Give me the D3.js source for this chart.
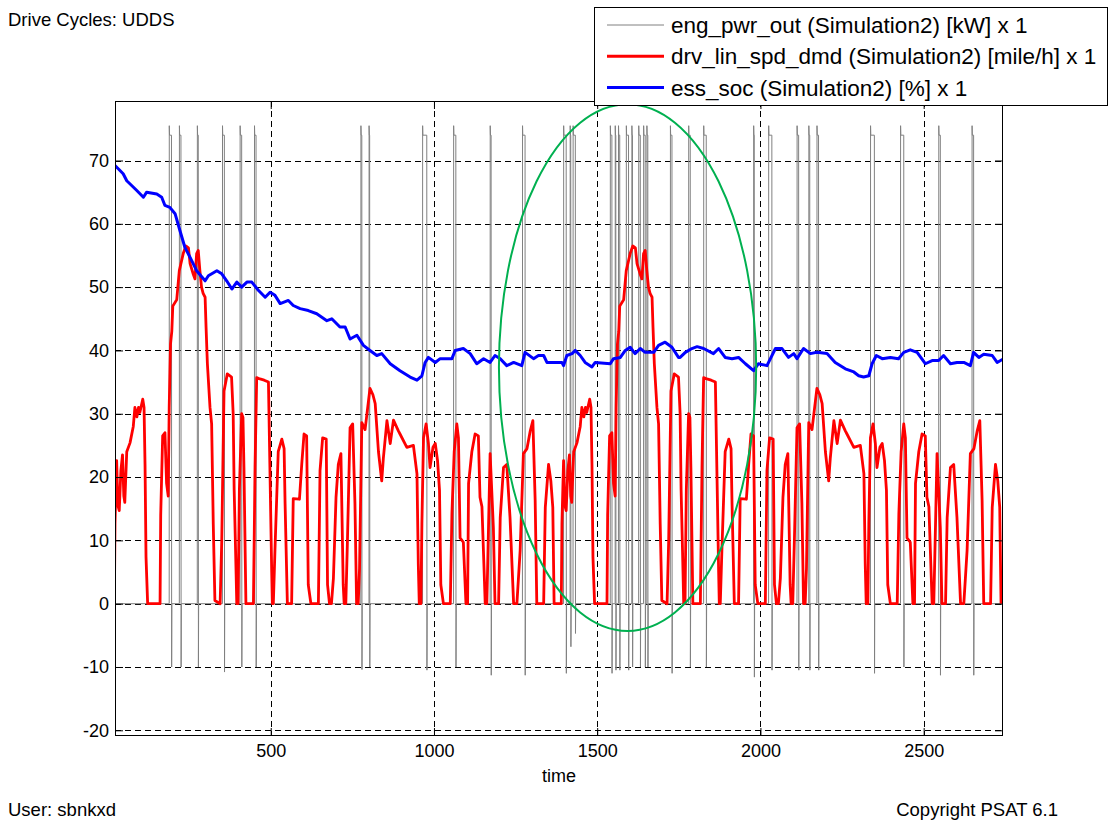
<!DOCTYPE html>
<html>
<head>
<meta charset="utf-8">
<script src="https://cdn.jsdelivr.net/npm/d3@7"></script>
<style>
  html, body { margin: 0; padding: 0; background: #fff; }
  svg { display: block; }
  text { font-family: "Liberation Sans", Arial, Helvetica, sans-serif; fill: #000; }
</style>
</head>
<body>
<svg id="chart" width="1110" height="825"></svg>
<script>
// ---------------- DATA ----------------
const xTicks = [500, 1000, 1500, 2000, 2500];
const yTicks = [-20, -10, 0, 10, 20, 30, 40, 50, 60, 70];
const xDomain = [23, 2743];
const yDomain = [-20.9, 79.4];

const seriesNames = [
  "eng_pwr_out (Simulation2) [kW] x 1",
  "drv_lin_spd_dmd (Simulation2) [mile/h] x 1",
  "ess_soc (Simulation2) [%] x 1"
];

// One UDDS cycle of the speed demand [time s, mile/h] (the run repeats it twice)
const udssCycleLength = 1369;
const speedCycle = [
  [0,0],[21,0],[23,12.6],[28,22.6],[32,15.5],[36,14.7],[41,21],[46,23.5],[50,17],[53,16],[59,24],[69,25.4],[79,28],[84,31],[90,29.5],[95,31],[99,30.2],[108,32.3],[112,31],[115,22],[118,7.4],[123,0],
  [161,0],[163,14],[169,26.5],[176,27],[181,19],[186,17],[189,31],[193,41],[197,43],[200,47],[212,48],[220,52.6],[232,55.3],[240,56.5],[248,56.2],[253,53.7],[263,52],[268,51.3],[273,55.3],[278,55.8],[283,52.6],[288,50],[293,49],[299,48.4],[302,43.6],[306,37.9],[314,31],[319,28.4],[324,12.6],[329,0.5],
  [345,0],[350,10],[357,33.6],[367,36.3],[380,35.8],[385,30],[388,18],[394,4.7],[396,0],[400,0],[404,18],[411,30],[415,29.4],[418,21.5],[424,0],
  [447,0],[452,21.5],[457,35.7],[467,35.5],[480,35.3],[493,35],[498,20],[503,5],[505,0],[508,0],[513,8.5],[523,24],[534,26],[541,24.5],[544,15.8],[551,0],
  [564,0],[569,16.6],[588,16.5],[595,22],[602,26.8],[610,26.5],[615,3],[623,0],
  [646,0],[651,21],[659,26.2],[670,26],[674,3],[680,0],[686,0],[692,4],[700,16.8],[707,22],[715,23.7],[722,3],[725,0],[730,0],[735,10],[743,27.8],[751,28.4],[758,15.8],[763,0],[768,0],[772,5.5],[779,28.6],[789,27.5],[804,34],[813,33],[820,31.6],[830,24],[840,19.4],[845,23],[856,28.9],[866,25.3],[876,29],[891,27.3],[896,26.8],[917,24.7],[937,25],[948,20.5],[952,6.3],[955,0],[960,0],[963,12.6],[968,26.2],[976,28.4],[983,25.3],[988,21.5],[997,24.7],[1004,25.3],[1011,22.6],[1017,17.9],[1021,3],[1029,0],
  [1050,0],[1055,14.2],[1062,24],[1070,28.4],[1075,26.2],[1080,10.4],[1090,9.7],[1098,0],[1103,0],[1106,19],[1116,24],[1126,26.8],[1136,26.5],[1141,16.8],[1147,15.3],[1157,0],[1162,0],[1172,23.7],[1182,12],[1187,0],[1198,0],[1203,13.6],[1213,21.5],[1223,22],[1233,13.6],[1244,0],[1254,0],[1264,8.4],[1274,23.7],[1285,24.5],[1295,27.3],[1303,28.9],[1310,16.3],[1315,0],
  [1336,0],[1341,15.2],[1351,22],[1358,19.4],[1364,15.2],[1368,0]
];

// Battery state of charge [time s, %]
const socData = [
  [23,69.2],[33,68.7],[48,67.9],[59,66.8],[89,65.3],[110,64.2],[120,65],[151,64.7],[166,64.2],[176,62.9],[191,62.6],[207,61.6],[222,58.9],[237,56.3],[253,54.7],[273,52.6],[299,51],[309,51.8],[335,52.6],[350,52.1],[365,51],[381,49.7],[396,50.8],[411,50],[427,50.8],[442,50.8],[462,49.5],[483,48.4],[498,49.2],[513,48.7],[529,47.4],[554,47.9],[569,47.1],[590,46.6],[615,46.3],[641,45.8],[672,44.7],[687,45],[712,43.7],[728,43.7],[743,41.8],[764,42.4],[784,40.8],[804,40],[825,39.2],[840,39.5],[866,37.9],[896,36.8],[927,35.8],[948,35.3],[963,36],[973,38.1],[983,38.9],[1004,38.1],[1019,38.7],[1055,38.7],[1065,40],[1090,40.3],[1111,39.5],[1131,37.9],[1152,38.7],[1172,38.1],[1187,39.2],[1203,38.7],[1223,37.6],[1244,38.1],[1269,37.6],[1279,39.7],[1305,38.7],[1320,39.2],[1336,39.2],[1346,38.1],
  [1392,38.1],[1397,37.6],[1407,39.2],[1423,39.5],[1433,40],[1448,39.2],[1463,38.1],[1484,37.4],[1494,38.1],[1540,37.9],[1550,38.7],[1571,38.9],[1586,40],[1601,40.5],[1616,39.5],[1632,40.3],[1647,39.7],[1673,39.7],[1688,40.8],[1708,41.3],[1729,40.5],[1749,38.9],[1754,38.9],[1770,39.7],[1790,40.3],[1806,40.6],[1826,40.3],[1856,39.5],[1872,40.3],[1892,38.9],[1913,38.7],[1933,38.9],[1954,37.9],[1979,36.8],[1994,37.9],[2020,37.6],[2046,40.3],[2066,40.3],[2086,38.9],[2102,39.5],[2112,38.7],[2132,40.3],[2153,39.5],[2173,39.7],[2204,39.5],[2229,38.1],[2260,37.1],[2286,36.6],[2301,36],[2316,35.8],[2332,36],[2342,37.9],[2355,39.2],[2373,38.7],[2398,38.9],[2423,38.7],[2439,39.7],[2459,40.1],[2480,39.7],[2505,37.9],[2526,38.4],[2546,38.4],[2561,39.2],[2582,37.9],[2602,38.1],[2623,38.1],[2643,37.6],[2653,39.7],[2669,38.9],[2684,39.4],[2710,39.2],[2725,38.1],[2745,38.7]
];

// Engine power pulses: start time [s], on-duration [s], undershoot after shut-off [kW]
const engStart = [189,220,275,352,406,450,776,801,965,1060,1172,1271,1397,1417,1426,1540,1555,1565,1589,1606,1627,1642,1652,1724,1780,1826,1979,2025,2112,2148,2173,2337,2429,2546,2648];
const engDur   = [7,5,3,6,5,5,3,2,13,7,3,8,8,2,7,5,2,4,7,2,5,5,3,5,5,8,2,10,5,3,5,12,10,5,5];
const engMin   = [-10,-10,-10,-10.8,-10,-10,-10.4,-10,-10.5,-10,-11.3,-11.3,-11,-6.8,-4.7,-11,-10.5,-10.5,-10.5,-10,-10,-10,-10,-11,-10,-10,-11.6,-10.5,-10.5,-10.5,-10.5,-11,-10,-11.3,-11.3];
const engPeak = 75.5;   // kW, first sample of each pulse
const engHold = 74;     // kW, level held while on

// ---------------- BUILD SERIES ----------------
const speedData = speedCycle.concat(speedCycle.map(d => [d[0] + udssCycleLength, d[1]]));

const engData = [[0, 0]];
engStart.forEach((t, i) => {
  const d = engDur[i];
  engData.push([t, 0], [t + 0.3, engPeak], [t + 1, engHold], [t + d, engHold],
               [t + d + 0.5, engMin[i]], [t + d + 1.2, 0]);
});
engData.push([2745, 0]);

// ---------------- LAYOUT ----------------
const svg = d3.select("#chart");
const X0 = 115, X1 = 1003, Y0 = 101, Y1 = 736;
const x = d3.scaleLinear().domain(xDomain).range([X0, X1]);
const y = d3.scaleLinear().domain(yDomain).range([Y1, Y0]);

svg.append("rect").attr("width", 1110).attr("height", 825).attr("fill", "#fff");

svg.append("defs").append("clipPath").attr("id", "plotclip")
  .append("rect").attr("x", X0).attr("y", Y0).attr("width", X1 - X0).attr("height", Y1 - Y0);

// grid
const grid = svg.append("g").attr("stroke", "#000").attr("stroke-width", 1)
  .attr("stroke-dasharray", "6,4").attr("fill", "none");
xTicks.forEach(v => {
  const px = Math.round(x(v)) + 0.5;
  grid.append("line").attr("x1", px).attr("x2", px).attr("y1", Y0).attr("y2", Y1);
});
yTicks.forEach(v => {
  const py = Math.round(y(v)) + 0.5;
  grid.append("line").attr("x1", X0).attr("x2", X1).attr("y1", py).attr("y2", py);
});

// series
const line = d3.line().x(d => x(d[0])).y(d => y(d[1]));
const plot = svg.append("g").attr("clip-path", "url(#plotclip)");
plot.append("path").datum(engData).attr("d", line)
  .attr("fill", "none").attr("stroke", "#808080").attr("stroke-width", 1);
plot.append("path").datum(speedData).attr("d", line)
  .attr("fill", "none").attr("stroke", "#ff0000").attr("stroke-width", 2.8)
  .attr("stroke-linejoin", "round");
plot.append("path").datum(socData).attr("d", line)
  .attr("fill", "none").attr("stroke", "#0000ff").attr("stroke-width", 3)
  .attr("stroke-linejoin", "round");

// annotation ellipse
svg.append("ellipse")
  .attr("cx", x(1593)).attr("cy", y(37.3))
  .attr("rx", x(1593 + 394) - x(1593)).attr("ry", y(37.3 - 41.6) - y(37.3))
  .attr("fill", "none").attr("stroke", "#00b050").attr("stroke-width", 2);

// axes
const fontSize = 18;
const fmt = d => String(d);
const axB = svg.append("g").attr("transform", `translate(0,${Y1})`)
  .call(d3.axisBottom(x).tickValues(xTicks).tickSize(-8).tickPadding(8).tickFormat(fmt));
const axT = svg.append("g").attr("transform", `translate(0,${Y0})`)
  .call(d3.axisTop(x).tickValues(xTicks).tickSize(-8).tickFormat(""));
const axL = svg.append("g").attr("transform", `translate(${X0},0)`)
  .call(d3.axisLeft(y).tickValues(yTicks).tickSize(-8).tickPadding(6).tickFormat(fmt));
const axR = svg.append("g").attr("transform", `translate(${X1},0)`)
  .call(d3.axisRight(y).tickValues(yTicks).tickSize(-8).tickFormat(""));
[axB, axT, axL, axR].forEach(g => {
  g.select(".domain").remove();
  g.selectAll(".tick line").attr("stroke", "#000");
  g.selectAll(".tick text").attr("font-size", fontSize)
    .attr("font-family", '"Liberation Sans", Arial, sans-serif').attr("fill", "#000");
});

svg.append("rect").attr("x", X0 + 0.5).attr("y", Y0 + 0.5)
  .attr("width", X1 - X0 - 1).attr("height", Y1 - Y0 - 1)
  .attr("fill", "none").attr("stroke", "#000").attr("stroke-width", 1);

// axis title & page texts
svg.append("text").attr("x", (X0 + X1) / 2).attr("y", 782).attr("text-anchor", "middle")
  .attr("font-size", fontSize).text("time");
svg.append("text").attr("x", 8).attr("y", 26).attr("font-size", 18.5).text("Drive Cycles: UDDS");
svg.append("text").attr("x", 8).attr("y", 816).attr("font-size", 18.5).text("User: sbnkxd");
svg.append("text").attr("x", 1058).attr("y", 816).attr("text-anchor", "end")
  .attr("font-size", 18.5).text("Copyright PSAT 6.1");

// legend
const leg = svg.append("g");
leg.append("rect").attr("x", 594.5).attr("y", 7.5).attr("width", 513).attr("height", 98)
  .attr("fill", "#fff").attr("stroke", "#000").attr("stroke-width", 1);
const legStyles = [
  { color: "#808080", w: 1 },
  { color: "#ff0000", w: 3 },
  { color: "#0000ff", w: 3 }
];
seriesNames.forEach((name, i) => {
  const ly = 25 + i * 31.3;
  leg.append("line").attr("x1", 607).attr("x2", 664).attr("y1", ly).attr("y2", ly)
    .attr("stroke", legStyles[i].color).attr("stroke-width", legStyles[i].w);
  leg.append("text").attr("x", 671).attr("y", ly + 8).attr("font-size", 22.5).text(name);
});
</script>
</body>
</html>
